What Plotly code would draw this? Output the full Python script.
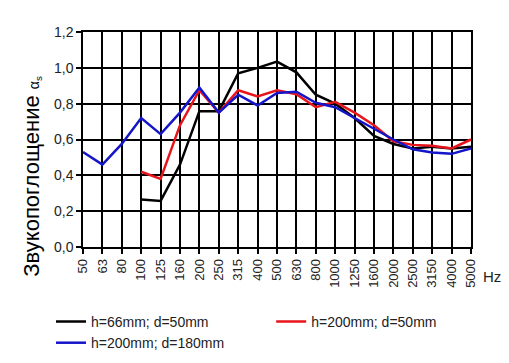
import plotly.graph_objects as go

freqs = ["50", "63", "80", "100", "125", "160", "200", "250", "315", "400", "500",
         "630", "800", "1000", "1250", "1600", "2000", "2500", "3150", "4000", "5000"]

h66_d50 = [None, None, None, 0.265, 0.257, 0.46, 0.758, 0.758, 0.97, 1.0, 1.035,
           0.975, 0.85, 0.80, 0.72, 0.62, 0.575, 0.55, 0.56, 0.55, 0.56]
h200_d50 = [None, None, None, 0.42, 0.38, 0.68, 0.875, 0.75, 0.875, 0.84, 0.875,
            0.853, 0.78, 0.81, 0.75, 0.68, 0.59, 0.57, 0.565, 0.55, 0.60]
h200_d180 = [0.53, 0.46, 0.575, 0.72, 0.63, 0.75, 0.89, 0.75, 0.85, 0.79, 0.86,
             0.867, 0.805, 0.78, 0.72, 0.66, 0.60, 0.545, 0.528, 0.52, 0.55]

y_ticks = [0.0, 0.2, 0.4, 0.6, 0.8, 1.0, 1.2]
y_tick_text = ["0,0", "0,2", "0,4", "0,6", "0,8", "1,0", "1,2"]

series = [
    ("h=66mm; d=50mm", h66_d50, "#000000", 2.5, "legend"),
    ("h=200mm; d=50mm", h200_d50, "#e8141c", 2.5, "legend2"),
    ("h=200mm; d=180mm", h200_d180, "#1414c8", 2.5, "legend"),
]

fig = go.Figure()
for name, vals, color, w, lg in series:
    fig.add_trace(go.Scatter(x=freqs, y=vals, name=name, mode="lines",
                             line=dict(color=color, width=w), legend=lg))

font = "Liberation Sans, Arial, sans-serif"
leg_common = dict(orientation="v", y=-0.274, xanchor="left", yanchor="top",
                  font=dict(size=14, color="#222"), tracegroupgap=0,
                  bgcolor="rgba(0,0,0,0)", traceorder="normal")
fig.update_layout(
    width=509, height=363,
    margin=dict(l=75, r=46, t=24, b=113),
    paper_bgcolor="white", plot_bgcolor="white",
    font=dict(family=font, color="#222", size=13),
    showlegend=True,
    legend=dict(x=-0.0825, **leg_common),
    legend2=dict(x=0.485, **leg_common),
    xaxis=dict(type="category", range=[0, 20], showgrid=True, gridcolor="black",
               gridwidth=1.5, showline=True, linecolor="black", linewidth=1.5,
               mirror=True, ticks="outside", ticklen=5, tickcolor="black",
               tickwidth=1.5, tickangle=-90, tickfont=dict(size=13, color="#222")),
    yaxis=dict(range=[0, 1.2], tickvals=y_ticks, ticktext=y_tick_text,
               showgrid=True, gridcolor="black", gridwidth=1.5, showline=True,
               linecolor="black", linewidth=1.5, mirror=True, ticks="outside",
               ticklen=5, tickcolor="black", tickwidth=1.5, zeroline=False,
               tickfont=dict(size=14, color="#222")),
    annotations=[
        dict(text="Hz", x=1.026, y=-0.137, xref="paper", yref="paper",
             xanchor="left", yanchor="middle", showarrow=False,
             font=dict(size=15, color="#222")),
        dict(text="Звукопоглощение <span style='font-size:14px'>α<sub>s</sub></span>",
             x=-0.135, y=0.33, xref="paper", yref="paper", textangle=-90,
             xanchor="center", yanchor="middle", showarrow=False,
             font=dict(size=22, color="black")),
    ],
)

fig.write_html("out.html")
